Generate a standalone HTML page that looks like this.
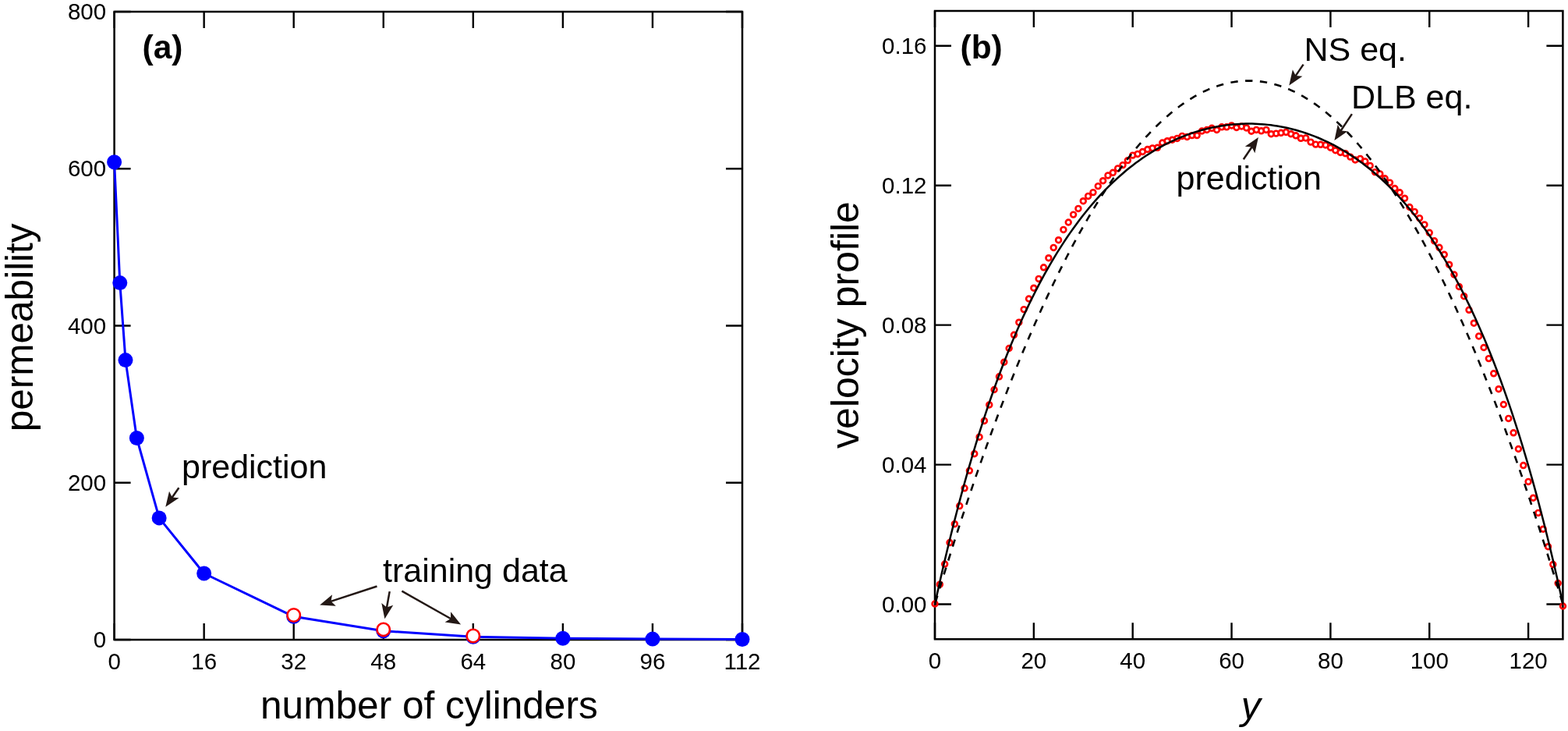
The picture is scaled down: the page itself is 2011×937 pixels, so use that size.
<!DOCTYPE html>
<html><head><meta charset="utf-8"><title>permeability and velocity profile</title>
<style>html,body{margin:0;padding:0;background:#fff;width:2011px;height:937px;overflow:hidden}svg{display:block}</style>
</head><body>
<svg width="2011" height="937" viewBox="0 0 2011 937" font-family='"Liberation Sans", sans-serif'>
<rect width="2011" height="937" fill="#fff"/>
<path d="M146.6 820V799M146.6 15V36M261.66 820V799M261.66 15V36M376.71 820V799M376.71 15V36M491.77 820V799M491.77 15V36M606.83 820V799M606.83 15V36M721.89 820V799M721.89 15V36M836.94 820V799M836.94 15V36M952 820V799M952 15V36M146.6 820H167.6M952 820H931M146.6 618.75H167.6M952 618.75H931M146.6 417.5H167.6M952 417.5H931M146.6 216.25H167.6M952 216.25H931M146.6 15H167.6M952 15H931" stroke="#000" stroke-width="2.4" fill="none"/>
<rect x="146.6" y="15" width="805.4" height="805" fill="none" stroke="#000" stroke-width="2.5"/>
<text x="136.2" y="830.1" font-size="29.5" text-anchor="end">0</text>
<text x="136.2" y="628.85" font-size="29.5" text-anchor="end">200</text>
<text x="136.2" y="427.6" font-size="29.5" text-anchor="end">400</text>
<text x="136.2" y="226.35" font-size="29.5" text-anchor="end">600</text>
<text x="136.2" y="25.1" font-size="29.5" text-anchor="end">800</text>
<text x="146.6" y="857.8" font-size="29.5" text-anchor="middle">0</text>
<text x="261.66" y="857.8" font-size="29.5" text-anchor="middle">16</text>
<text x="376.71" y="857.8" font-size="29.5" text-anchor="middle">32</text>
<text x="491.77" y="857.8" font-size="29.5" text-anchor="middle">48</text>
<text x="606.83" y="857.8" font-size="29.5" text-anchor="middle">64</text>
<text x="721.89" y="857.8" font-size="29.5" text-anchor="middle">80</text>
<text x="836.94" y="857.8" font-size="29.5" text-anchor="middle">96</text>
<text x="952" y="857.8" font-size="29.5" text-anchor="middle">112</text>
<polyline points="146.6,207.7 153.79,362.6 160.98,461.6 175.36,561.5 204.13,663.9 261.66,735 376.71,790.3 491.77,808.8 606.83,816.2 721.89,818.3 836.94,819.1 952,819.5" fill="none" stroke="#0000ff" stroke-width="3" stroke-linejoin="round"/>
<circle cx="146.6" cy="207.7" r="9.5" fill="#0000ff"/>
<circle cx="153.79" cy="362.6" r="9.5" fill="#0000ff"/>
<circle cx="160.98" cy="461.6" r="9.5" fill="#0000ff"/>
<circle cx="175.36" cy="561.5" r="9.5" fill="#0000ff"/>
<circle cx="204.13" cy="663.9" r="9.5" fill="#0000ff"/>
<circle cx="261.66" cy="735" r="9.5" fill="#0000ff"/>
<circle cx="376.71" cy="790.3" r="9.5" fill="#0000ff"/>
<circle cx="491.77" cy="808.8" r="9.5" fill="#0000ff"/>
<circle cx="606.83" cy="816.2" r="9.5" fill="#0000ff"/>
<circle cx="721.89" cy="818.3" r="9.5" fill="#0000ff"/>
<circle cx="836.94" cy="819.1" r="9.5" fill="#0000ff"/>
<circle cx="952" cy="819.5" r="9.5" fill="#0000ff"/>
<circle cx="376.71" cy="788.5" r="8.2" fill="#fff" stroke="#ff0000" stroke-width="2.6"/>
<circle cx="491.77" cy="806.9" r="8.2" fill="#fff" stroke="#ff0000" stroke-width="2.6"/>
<circle cx="606.83" cy="815" r="8.2" fill="#fff" stroke="#ff0000" stroke-width="2.6"/>
<line x1="229.4" y1="625.2" x2="220.29" y2="638.3" stroke="#231815" stroke-width="2.5"/><path d="M212.3 649.8L217.02 629.7L220.86 637.48L229.5 638.37Z" fill="#231815"/>
<line x1="483.5" y1="751.5" x2="423.5" y2="771.14" stroke="#231815" stroke-width="2.5"/><path d="M410.2 775.5L426.08 762.3L424.46 770.83L430.81 776.75Z" fill="#231815"/>
<line x1="499.7" y1="758.1" x2="495.87" y2="779.42" stroke="#231815" stroke-width="2.5"/><path d="M493.4 793.2L489.31 772.96L496.05 778.44L504.27 775.64Z" fill="#231815"/>
<line x1="515.4" y1="757.7" x2="578.91" y2="793.52" stroke="#231815" stroke-width="2.5"/><path d="M591.1 800.4L570.64 797.59L578.04 793.03L578.11 784.35Z" fill="#231815"/>
<text x="182.5" y="75.3" font-size="42.5" text-anchor="start" font-weight="bold">(a)</text>
<text x="233" y="613.2" font-size="43" text-anchor="start">prediction</text>
<text x="491" y="746.1" font-size="43" text-anchor="start">training data</text>
<text x="334" y="921.2" font-size="49.6" text-anchor="start">number of cylinders</text>
<text transform="translate(42.3 419.8) rotate(-90)" font-size="49.5" text-anchor="middle">permeability</text>
<path d="M1199 819.3V798.3M1199 14V35M1325.85 819.3V798.3M1325.85 14V35M1452.7 819.3V798.3M1452.7 14V35M1579.55 819.3V798.3M1579.55 14V35M1706.4 819.3V798.3M1706.4 14V35M1833.25 819.3V798.3M1833.25 14V35M1960.1 819.3V798.3M1960.1 14V35M1199 774.5H1220M2004.4 774.5H1983.4M1199 595.58H1220M2004.4 595.58H1983.4M1199 416.66H1220M2004.4 416.66H1983.4M1199 237.74H1220M2004.4 237.74H1983.4M1199 58.82H1220M2004.4 58.82H1983.4" stroke="#000" stroke-width="2.4" fill="none"/>
<rect x="1199" y="14" width="805.4" height="805.3" fill="none" stroke="#000" stroke-width="2.5"/>
<text x="1188.5" y="784.5" font-size="29.5" text-anchor="end">0.00</text>
<text x="1188.5" y="605.58" font-size="29.5" text-anchor="end">0.04</text>
<text x="1188.5" y="426.66" font-size="29.5" text-anchor="end">0.08</text>
<text x="1188.5" y="247.74" font-size="29.5" text-anchor="end">0.12</text>
<text x="1188.5" y="68.82" font-size="29.5" text-anchor="end">0.16</text>
<text x="1199" y="857.3" font-size="29.5" text-anchor="middle">0</text>
<text x="1325.85" y="857.3" font-size="29.5" text-anchor="middle">20</text>
<text x="1452.7" y="857.3" font-size="29.5" text-anchor="middle">40</text>
<text x="1579.55" y="857.3" font-size="29.5" text-anchor="middle">60</text>
<text x="1706.4" y="857.3" font-size="29.5" text-anchor="middle">80</text>
<text x="1833.25" y="857.3" font-size="29.5" text-anchor="middle">100</text>
<text x="1960.1" y="857.3" font-size="29.5" text-anchor="middle">120</text>
<circle cx="1199" cy="774" r="3.4" fill="none" stroke="#ff0000" stroke-width="2.65"/>
<circle cx="1205.34" cy="749.2" r="3.4" fill="none" stroke="#ff0000" stroke-width="2.65"/>
<circle cx="1211.68" cy="723.1" r="3.4" fill="none" stroke="#ff0000" stroke-width="2.65"/>
<circle cx="1218.03" cy="695.6" r="3.4" fill="none" stroke="#ff0000" stroke-width="2.65"/>
<circle cx="1224.37" cy="671.7" r="3.4" fill="none" stroke="#ff0000" stroke-width="2.65"/>
<circle cx="1230.71" cy="648.6" r="3.4" fill="none" stroke="#ff0000" stroke-width="2.65"/>
<circle cx="1237.06" cy="625.8" r="3.4" fill="none" stroke="#ff0000" stroke-width="2.65"/>
<circle cx="1243.4" cy="603.3" r="3.4" fill="none" stroke="#ff0000" stroke-width="2.65"/>
<circle cx="1249.74" cy="581.7" r="3.4" fill="none" stroke="#ff0000" stroke-width="2.65"/>
<circle cx="1256.08" cy="560.2" r="3.4" fill="none" stroke="#ff0000" stroke-width="2.65"/>
<circle cx="1262.42" cy="539.4" r="3.4" fill="none" stroke="#ff0000" stroke-width="2.65"/>
<circle cx="1268.77" cy="518.9" r="3.4" fill="none" stroke="#ff0000" stroke-width="2.65"/>
<circle cx="1275.11" cy="499.5" r="3.4" fill="none" stroke="#ff0000" stroke-width="2.65"/>
<circle cx="1281.45" cy="482.8" r="3.4" fill="none" stroke="#ff0000" stroke-width="2.65"/>
<circle cx="1287.8" cy="464.2" r="3.4" fill="none" stroke="#ff0000" stroke-width="2.65"/>
<circle cx="1294.14" cy="446.5" r="3.4" fill="none" stroke="#ff0000" stroke-width="2.65"/>
<circle cx="1300.48" cy="429.3" r="3.4" fill="none" stroke="#ff0000" stroke-width="2.65"/>
<circle cx="1306.82" cy="413.2" r="3.4" fill="none" stroke="#ff0000" stroke-width="2.65"/>
<circle cx="1313.16" cy="396.6" r="3.4" fill="none" stroke="#ff0000" stroke-width="2.65"/>
<circle cx="1319.51" cy="383" r="3.4" fill="none" stroke="#ff0000" stroke-width="2.65"/>
<circle cx="1325.85" cy="369.2" r="3.4" fill="none" stroke="#ff0000" stroke-width="2.65"/>
<circle cx="1332.19" cy="357.4" r="3.4" fill="none" stroke="#ff0000" stroke-width="2.65"/>
<circle cx="1338.54" cy="342.8" r="3.4" fill="none" stroke="#ff0000" stroke-width="2.65"/>
<circle cx="1344.88" cy="330.7" r="3.4" fill="none" stroke="#ff0000" stroke-width="2.65"/>
<circle cx="1351.22" cy="317.4" r="3.4" fill="none" stroke="#ff0000" stroke-width="2.65"/>
<circle cx="1357.56" cy="307.7" r="3.4" fill="none" stroke="#ff0000" stroke-width="2.65"/>
<circle cx="1363.9" cy="294.4" r="3.4" fill="none" stroke="#ff0000" stroke-width="2.65"/>
<circle cx="1370.25" cy="285" r="3.4" fill="none" stroke="#ff0000" stroke-width="2.65"/>
<circle cx="1376.59" cy="275.1" r="3.4" fill="none" stroke="#ff0000" stroke-width="2.65"/>
<circle cx="1382.93" cy="267.4" r="3.4" fill="none" stroke="#ff0000" stroke-width="2.65"/>
<circle cx="1389.28" cy="257.7" r="3.4" fill="none" stroke="#ff0000" stroke-width="2.65"/>
<circle cx="1395.62" cy="251.4" r="3.4" fill="none" stroke="#ff0000" stroke-width="2.65"/>
<circle cx="1401.96" cy="246.6" r="3.4" fill="none" stroke="#ff0000" stroke-width="2.65"/>
<circle cx="1408.3" cy="238.6" r="3.4" fill="none" stroke="#ff0000" stroke-width="2.65"/>
<circle cx="1414.64" cy="231.7" r="3.4" fill="none" stroke="#ff0000" stroke-width="2.65"/>
<circle cx="1420.99" cy="224.9" r="3.4" fill="none" stroke="#ff0000" stroke-width="2.65"/>
<circle cx="1427.33" cy="221.3" r="3.4" fill="none" stroke="#ff0000" stroke-width="2.65"/>
<circle cx="1433.67" cy="215.9" r="3.4" fill="none" stroke="#ff0000" stroke-width="2.65"/>
<circle cx="1440.02" cy="211.6" r="3.4" fill="none" stroke="#ff0000" stroke-width="2.65"/>
<circle cx="1446.36" cy="205.6" r="3.4" fill="none" stroke="#ff0000" stroke-width="2.65"/>
<circle cx="1452.7" cy="199.1" r="3.4" fill="none" stroke="#ff0000" stroke-width="2.65"/>
<circle cx="1459.04" cy="197.4" r="3.4" fill="none" stroke="#ff0000" stroke-width="2.65"/>
<circle cx="1465.38" cy="194.5" r="3.4" fill="none" stroke="#ff0000" stroke-width="2.65"/>
<circle cx="1471.73" cy="191.5" r="3.4" fill="none" stroke="#ff0000" stroke-width="2.65"/>
<circle cx="1478.07" cy="189.9" r="3.4" fill="none" stroke="#ff0000" stroke-width="2.65"/>
<circle cx="1484.41" cy="189.3" r="3.4" fill="none" stroke="#ff0000" stroke-width="2.65"/>
<circle cx="1490.76" cy="183" r="3.4" fill="none" stroke="#ff0000" stroke-width="2.65"/>
<circle cx="1497.1" cy="180.7" r="3.4" fill="none" stroke="#ff0000" stroke-width="2.65"/>
<circle cx="1503.44" cy="179.2" r="3.4" fill="none" stroke="#ff0000" stroke-width="2.65"/>
<circle cx="1509.78" cy="177.4" r="3.4" fill="none" stroke="#ff0000" stroke-width="2.65"/>
<circle cx="1516.12" cy="174.4" r="3.4" fill="none" stroke="#ff0000" stroke-width="2.65"/>
<circle cx="1522.47" cy="175.5" r="3.4" fill="none" stroke="#ff0000" stroke-width="2.65"/>
<circle cx="1528.81" cy="173.6" r="3.4" fill="none" stroke="#ff0000" stroke-width="2.65"/>
<circle cx="1535.15" cy="173.6" r="3.4" fill="none" stroke="#ff0000" stroke-width="2.65"/>
<circle cx="1541.49" cy="168" r="3.4" fill="none" stroke="#ff0000" stroke-width="2.65"/>
<circle cx="1547.84" cy="166.5" r="3.4" fill="none" stroke="#ff0000" stroke-width="2.65"/>
<circle cx="1554.18" cy="164.3" r="3.4" fill="none" stroke="#ff0000" stroke-width="2.65"/>
<circle cx="1560.52" cy="166.5" r="3.4" fill="none" stroke="#ff0000" stroke-width="2.65"/>
<circle cx="1566.87" cy="162.8" r="3.4" fill="none" stroke="#ff0000" stroke-width="2.65"/>
<circle cx="1573.21" cy="162.8" r="3.4" fill="none" stroke="#ff0000" stroke-width="2.65"/>
<circle cx="1579.55" cy="160.9" r="3.4" fill="none" stroke="#ff0000" stroke-width="2.65"/>
<circle cx="1585.89" cy="163.5" r="3.4" fill="none" stroke="#ff0000" stroke-width="2.65"/>
<circle cx="1592.24" cy="162" r="3.4" fill="none" stroke="#ff0000" stroke-width="2.65"/>
<circle cx="1598.58" cy="163.9" r="3.4" fill="none" stroke="#ff0000" stroke-width="2.65"/>
<circle cx="1604.92" cy="168.2" r="3.4" fill="none" stroke="#ff0000" stroke-width="2.65"/>
<circle cx="1611.26" cy="166.4" r="3.4" fill="none" stroke="#ff0000" stroke-width="2.65"/>
<circle cx="1617.61" cy="167.8" r="3.4" fill="none" stroke="#ff0000" stroke-width="2.65"/>
<circle cx="1623.95" cy="166.4" r="3.4" fill="none" stroke="#ff0000" stroke-width="2.65"/>
<circle cx="1630.29" cy="171.7" r="3.4" fill="none" stroke="#ff0000" stroke-width="2.65"/>
<circle cx="1636.63" cy="171.1" r="3.4" fill="none" stroke="#ff0000" stroke-width="2.65"/>
<circle cx="1642.97" cy="170.3" r="3.4" fill="none" stroke="#ff0000" stroke-width="2.65"/>
<circle cx="1649.32" cy="169.4" r="3.4" fill="none" stroke="#ff0000" stroke-width="2.65"/>
<circle cx="1655.66" cy="171.7" r="3.4" fill="none" stroke="#ff0000" stroke-width="2.65"/>
<circle cx="1662" cy="173.8" r="3.4" fill="none" stroke="#ff0000" stroke-width="2.65"/>
<circle cx="1668.35" cy="177.3" r="3.4" fill="none" stroke="#ff0000" stroke-width="2.65"/>
<circle cx="1674.69" cy="176.9" r="3.4" fill="none" stroke="#ff0000" stroke-width="2.65"/>
<circle cx="1681.03" cy="182.1" r="3.4" fill="none" stroke="#ff0000" stroke-width="2.65"/>
<circle cx="1687.37" cy="185.1" r="3.4" fill="none" stroke="#ff0000" stroke-width="2.65"/>
<circle cx="1693.72" cy="185.3" r="3.4" fill="none" stroke="#ff0000" stroke-width="2.65"/>
<circle cx="1700.06" cy="185.9" r="3.4" fill="none" stroke="#ff0000" stroke-width="2.65"/>
<circle cx="1706.4" cy="189.2" r="3.4" fill="none" stroke="#ff0000" stroke-width="2.65"/>
<circle cx="1712.74" cy="192.7" r="3.4" fill="none" stroke="#ff0000" stroke-width="2.65"/>
<circle cx="1719.09" cy="195.4" r="3.4" fill="none" stroke="#ff0000" stroke-width="2.65"/>
<circle cx="1725.43" cy="196.7" r="3.4" fill="none" stroke="#ff0000" stroke-width="2.65"/>
<circle cx="1731.77" cy="201.1" r="3.4" fill="none" stroke="#ff0000" stroke-width="2.65"/>
<circle cx="1738.11" cy="204.9" r="3.4" fill="none" stroke="#ff0000" stroke-width="2.65"/>
<circle cx="1744.45" cy="203.4" r="3.4" fill="none" stroke="#ff0000" stroke-width="2.65"/>
<circle cx="1750.8" cy="206.9" r="3.4" fill="none" stroke="#ff0000" stroke-width="2.65"/>
<circle cx="1757.14" cy="212.4" r="3.4" fill="none" stroke="#ff0000" stroke-width="2.65"/>
<circle cx="1763.48" cy="220.6" r="3.4" fill="none" stroke="#ff0000" stroke-width="2.65"/>
<circle cx="1769.83" cy="222.9" r="3.4" fill="none" stroke="#ff0000" stroke-width="2.65"/>
<circle cx="1776.17" cy="228.8" r="3.4" fill="none" stroke="#ff0000" stroke-width="2.65"/>
<circle cx="1782.51" cy="234.1" r="3.4" fill="none" stroke="#ff0000" stroke-width="2.65"/>
<circle cx="1788.85" cy="241.5" r="3.4" fill="none" stroke="#ff0000" stroke-width="2.65"/>
<circle cx="1795.2" cy="246.8" r="3.4" fill="none" stroke="#ff0000" stroke-width="2.65"/>
<circle cx="1801.54" cy="254.2" r="3.4" fill="none" stroke="#ff0000" stroke-width="2.65"/>
<circle cx="1807.88" cy="265.5" r="3.4" fill="none" stroke="#ff0000" stroke-width="2.65"/>
<circle cx="1814.22" cy="271.4" r="3.4" fill="none" stroke="#ff0000" stroke-width="2.65"/>
<circle cx="1820.57" cy="279.6" r="3.4" fill="none" stroke="#ff0000" stroke-width="2.65"/>
<circle cx="1826.91" cy="287.9" r="3.4" fill="none" stroke="#ff0000" stroke-width="2.65"/>
<circle cx="1833.25" cy="298.3" r="3.4" fill="none" stroke="#ff0000" stroke-width="2.65"/>
<circle cx="1839.59" cy="308.8" r="3.4" fill="none" stroke="#ff0000" stroke-width="2.65"/>
<circle cx="1845.93" cy="317.3" r="3.4" fill="none" stroke="#ff0000" stroke-width="2.65"/>
<circle cx="1852.28" cy="326.3" r="3.4" fill="none" stroke="#ff0000" stroke-width="2.65"/>
<circle cx="1858.62" cy="339.2" r="3.4" fill="none" stroke="#ff0000" stroke-width="2.65"/>
<circle cx="1864.96" cy="352" r="3.4" fill="none" stroke="#ff0000" stroke-width="2.65"/>
<circle cx="1871.31" cy="367.4" r="3.4" fill="none" stroke="#ff0000" stroke-width="2.65"/>
<circle cx="1877.65" cy="379.7" r="3.4" fill="none" stroke="#ff0000" stroke-width="2.65"/>
<circle cx="1883.99" cy="397.3" r="3.4" fill="none" stroke="#ff0000" stroke-width="2.65"/>
<circle cx="1890.33" cy="414.2" r="3.4" fill="none" stroke="#ff0000" stroke-width="2.65"/>
<circle cx="1896.68" cy="430.9" r="3.4" fill="none" stroke="#ff0000" stroke-width="2.65"/>
<circle cx="1903.02" cy="445.5" r="3.4" fill="none" stroke="#ff0000" stroke-width="2.65"/>
<circle cx="1909.36" cy="459.6" r="3.4" fill="none" stroke="#ff0000" stroke-width="2.65"/>
<circle cx="1915.7" cy="478.8" r="3.4" fill="none" stroke="#ff0000" stroke-width="2.65"/>
<circle cx="1922.05" cy="498.7" r="3.4" fill="none" stroke="#ff0000" stroke-width="2.65"/>
<circle cx="1928.39" cy="518.5" r="3.4" fill="none" stroke="#ff0000" stroke-width="2.65"/>
<circle cx="1934.73" cy="536.4" r="3.4" fill="none" stroke="#ff0000" stroke-width="2.65"/>
<circle cx="1941.07" cy="554.8" r="3.4" fill="none" stroke="#ff0000" stroke-width="2.65"/>
<circle cx="1947.41" cy="575.5" r="3.4" fill="none" stroke="#ff0000" stroke-width="2.65"/>
<circle cx="1953.76" cy="596.6" r="3.4" fill="none" stroke="#ff0000" stroke-width="2.65"/>
<circle cx="1960.1" cy="617.4" r="3.4" fill="none" stroke="#ff0000" stroke-width="2.65"/>
<circle cx="1966.44" cy="638.2" r="3.4" fill="none" stroke="#ff0000" stroke-width="2.65"/>
<circle cx="1972.79" cy="657.4" r="3.4" fill="none" stroke="#ff0000" stroke-width="2.65"/>
<circle cx="1979.13" cy="678.2" r="3.4" fill="none" stroke="#ff0000" stroke-width="2.65"/>
<circle cx="1985.47" cy="700.7" r="3.4" fill="none" stroke="#ff0000" stroke-width="2.65"/>
<circle cx="1991.81" cy="723.6" r="3.4" fill="none" stroke="#ff0000" stroke-width="2.65"/>
<circle cx="1998.16" cy="747.6" r="3.4" fill="none" stroke="#ff0000" stroke-width="2.65"/>
<circle cx="2004.5" cy="777" r="3.4" fill="none" stroke="#ff0000" stroke-width="2.65"/>
<polyline points="1199,774.5 1203.03,761.15 1207.05,747.93 1211.08,734.85 1215.11,721.9 1219.14,709.08 1223.16,696.4 1227.19,683.85 1231.22,671.44 1235.25,659.16 1239.27,647.02 1243.3,635.01 1247.33,623.13 1251.36,611.39 1255.38,599.78 1259.41,588.31 1263.44,576.97 1267.47,565.77 1271.49,554.7 1275.52,543.76 1279.55,532.96 1283.58,522.29 1287.6,511.76 1291.63,501.36 1295.66,491.09 1299.69,480.96 1303.71,470.96 1307.74,461.1 1311.77,451.37 1315.8,441.78 1319.82,432.32 1323.85,422.99 1327.88,413.8 1331.91,404.74 1335.93,395.82 1339.96,387.03 1343.99,378.37 1348.02,369.85 1352.04,361.46 1356.07,353.21 1360.1,345.09 1364.13,337.11 1368.15,329.26 1372.18,321.54 1376.21,313.96 1380.24,306.51 1384.26,299.2 1388.29,292.02 1392.32,284.97 1396.35,278.06 1400.37,271.29 1404.4,264.65 1408.43,258.14 1412.46,251.76 1416.48,245.52 1420.51,239.42 1424.54,233.45 1428.57,227.61 1432.59,221.91 1436.62,216.34 1440.65,210.9 1444.68,205.6 1448.7,200.44 1452.73,195.4 1456.76,190.51 1460.79,185.74 1464.81,181.11 1468.84,176.62 1472.87,172.26 1476.9,168.03 1480.92,163.94 1484.95,159.98 1488.98,156.15 1493.01,152.46 1497.03,148.91 1501.06,145.48 1505.09,142.2 1509.12,139.04 1513.14,136.02 1517.17,133.14 1521.2,130.39 1525.23,127.77 1529.25,125.29 1533.28,122.94 1537.31,120.73 1541.34,118.65 1545.36,116.7 1549.39,114.89 1553.42,113.21 1557.45,111.67 1561.47,110.26 1565.5,108.98 1569.53,107.84 1573.56,106.84 1577.58,105.97 1581.61,105.23 1585.64,104.62 1589.67,104.15 1593.69,103.82 1597.72,103.62 1601.75,103.55 1605.78,103.62 1609.8,103.82 1613.83,104.15 1617.86,104.62 1621.89,105.23 1625.91,105.97 1629.94,106.84 1633.97,107.84 1638,108.98 1642.02,110.26 1646.05,111.67 1650.08,113.21 1654.11,114.89 1658.13,116.7 1662.16,118.65 1666.19,120.73 1670.22,122.94 1674.24,125.29 1678.27,127.77 1682.3,130.39 1686.33,133.14 1690.35,136.02 1694.38,139.04 1698.41,142.2 1702.44,145.48 1706.46,148.91 1710.49,152.46 1714.52,156.15 1718.55,159.98 1722.57,163.94 1726.6,168.03 1730.63,172.26 1734.66,176.62 1738.68,181.11 1742.71,185.74 1746.74,190.51 1750.77,195.4 1754.79,200.44 1758.82,205.6 1762.85,210.9 1766.88,216.34 1770.9,221.91 1774.93,227.61 1778.96,233.45 1782.99,239.42 1787.01,245.52 1791.04,251.76 1795.07,258.14 1799.1,264.65 1803.12,271.29 1807.15,278.06 1811.18,284.97 1815.21,292.02 1819.23,299.2 1823.26,306.51 1827.29,313.96 1831.32,321.54 1835.34,329.26 1839.37,337.11 1843.4,345.09 1847.43,353.21 1851.45,361.46 1855.48,369.85 1859.51,378.37 1863.54,387.03 1867.56,395.82 1871.59,404.74 1875.62,413.8 1879.65,422.99 1883.67,432.32 1887.7,441.78 1891.73,451.37 1895.76,461.1 1899.78,470.96 1903.81,480.96 1907.84,491.09 1911.87,501.36 1915.89,511.76 1919.92,522.29 1923.95,532.96 1927.98,543.76 1932,554.7 1936.03,565.77 1940.06,576.97 1944.09,588.31 1948.11,599.78 1952.14,611.39 1956.17,623.13 1960.2,635.01 1964.22,647.02 1968.25,659.16 1972.28,671.44 1976.31,683.85 1980.33,696.4 1984.36,709.08 1988.39,721.9 1992.42,734.85 1996.44,747.93 2000.47,761.15 2004.5,774.5" fill="none" stroke="#000" stroke-width="2.6" stroke-dasharray="9.35 9.48" stroke-dashoffset="16.73"/>
<polyline points="1199,774.5 1203.03,756.16 1207.05,738.29 1211.08,720.89 1215.11,703.94 1219.14,687.43 1223.16,671.36 1227.19,655.7 1231.22,640.44 1235.25,625.59 1239.27,611.12 1243.3,597.04 1247.33,583.32 1251.36,569.96 1255.38,556.95 1259.41,544.28 1263.44,531.95 1267.47,519.94 1271.49,508.24 1275.52,496.86 1279.55,485.77 1283.58,474.98 1287.6,464.48 1291.63,454.25 1295.66,444.3 1299.69,434.61 1303.71,425.18 1307.74,416 1311.77,407.07 1315.8,398.38 1319.82,389.92 1323.85,381.7 1327.88,373.69 1331.91,365.9 1335.93,358.33 1339.96,350.96 1343.99,343.79 1348.02,336.83 1352.04,330.05 1356.07,323.46 1360.1,317.06 1364.13,310.83 1368.15,304.79 1372.18,298.91 1376.21,293.2 1380.24,287.65 1384.26,282.26 1388.29,277.03 1392.32,271.95 1396.35,267.01 1400.37,262.23 1404.4,257.58 1408.43,253.08 1412.46,248.71 1416.48,244.48 1420.51,240.37 1424.54,236.39 1428.57,232.54 1432.59,228.81 1436.62,225.2 1440.65,221.7 1444.68,218.32 1448.7,215.06 1452.73,211.9 1456.76,208.85 1460.79,205.91 1464.81,203.07 1468.84,200.34 1472.87,197.7 1476.9,195.17 1480.92,192.73 1484.95,190.38 1488.98,188.13 1493.01,185.97 1497.03,183.91 1501.06,181.93 1505.09,180.04 1509.12,178.23 1513.14,176.52 1517.17,174.88 1521.2,173.33 1525.23,171.86 1529.25,170.47 1533.28,169.17 1537.31,167.94 1541.34,166.79 1545.36,165.72 1549.39,164.72 1553.42,163.81 1557.45,162.96 1561.47,162.2 1565.5,161.5 1569.53,160.89 1573.56,160.34 1577.58,159.87 1581.61,159.47 1585.64,159.15 1589.67,158.89 1593.69,158.71 1597.72,158.6 1601.75,158.57 1605.78,158.6 1609.8,158.71 1613.83,158.89 1617.86,159.15 1621.89,159.47 1625.91,159.87 1629.94,160.34 1633.97,160.89 1638,161.5 1642.02,162.2 1646.05,162.96 1650.08,163.81 1654.11,164.72 1658.13,165.72 1662.16,166.79 1666.19,167.94 1670.22,169.17 1674.24,170.47 1678.27,171.86 1682.3,173.33 1686.33,174.88 1690.35,176.52 1694.38,178.23 1698.41,180.04 1702.44,181.93 1706.46,183.91 1710.49,185.97 1714.52,188.13 1718.55,190.38 1722.57,192.73 1726.6,195.17 1730.63,197.7 1734.66,200.34 1738.68,203.07 1742.71,205.91 1746.74,208.85 1750.77,211.9 1754.79,215.06 1758.82,218.32 1762.85,221.7 1766.88,225.2 1770.9,228.81 1774.93,232.54 1778.96,236.39 1782.99,240.37 1787.01,244.48 1791.04,248.71 1795.07,253.08 1799.1,257.58 1803.12,262.23 1807.15,267.01 1811.18,271.95 1815.21,277.03 1819.23,282.26 1823.26,287.65 1827.29,293.2 1831.32,298.91 1835.34,304.79 1839.37,310.83 1843.4,317.06 1847.43,323.46 1851.45,330.05 1855.48,336.83 1859.51,343.79 1863.54,350.96 1867.56,358.33 1871.59,365.9 1875.62,373.69 1879.65,381.7 1883.67,389.92 1887.7,398.38 1891.73,407.07 1895.76,416 1899.78,425.18 1903.81,434.61 1907.84,444.3 1911.87,454.25 1915.89,464.48 1919.92,474.98 1923.95,485.77 1927.98,496.86 1932,508.24 1936.03,519.94 1940.06,531.95 1944.09,544.28 1948.11,556.95 1952.14,569.96 1956.17,583.32 1960.2,597.04 1964.22,611.12 1968.25,625.59 1972.28,640.44 1976.31,655.7 1980.33,671.36 1984.36,687.43 1988.39,703.94 1992.42,720.89 1996.44,738.29 2000.47,756.16 2004.5,774.5" fill="none" stroke="#000" stroke-width="2.5"/>
<line x1="1671.6" y1="82.6" x2="1661.19" y2="97.84" stroke="#231815" stroke-width="2.5"/><path d="M1653.3 109.4L1657.85 89.26L1661.76 97.01L1670.4 97.83Z" fill="#231815"/>
<line x1="1733.9" y1="146.1" x2="1719.16" y2="168.25" stroke="#231815" stroke-width="2.5"/><path d="M1711.4 179.9L1715.71 159.71L1719.71 167.41L1728.37 168.13Z" fill="#231815"/>
<line x1="1594.8" y1="204.2" x2="1606.03" y2="187.68" stroke="#231815" stroke-width="2.5"/><path d="M1613.9 176.1L1609.39 196.25L1605.47 188.51L1596.82 187.71Z" fill="#231815"/>
<text x="1231.5" y="75.3" font-size="42.5" text-anchor="start" font-weight="bold">(b)</text>
<text x="1672.5" y="78.1" font-size="43" text-anchor="start">NS eq.</text>
<text x="1733" y="138.7" font-size="43" text-anchor="start">DLB eq.</text>
<text x="1508.5" y="243" font-size="43" text-anchor="start">prediction</text>
<text x="1591.7" y="922.2" font-size="50" text-anchor="start" font-style="italic">y</text>
<text transform="translate(1101.3 416.5) rotate(-90)" font-size="50" text-anchor="middle">velocity profile</text>
</svg>
</body></html>
